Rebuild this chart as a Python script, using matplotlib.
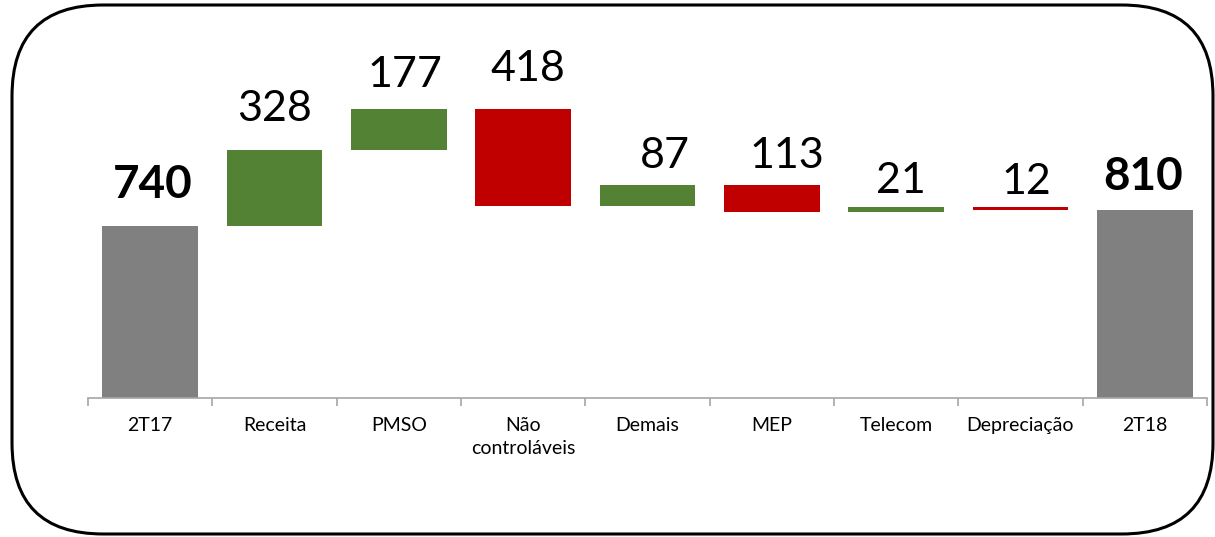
import numpy as np
import matplotlib.pyplot as plt
from matplotlib.patches import FancyBboxPatch

# dados do gráfico cascata
categorias = ['2T17', 'Receita', 'PMSO', 'Não\ncontroláveis', 'Demais',
              'MEP', 'Telecom', 'Depreciação', '2T18']
variacoes = [740, 328, 177, -418, 87, -113, 21, -12, 810]
rotulos = ['740', '328', '177', '418', '87', '113', '21', '12', '810']
totais = [True, False, False, False, False, False, False, False, True]

# deslocamento dos rótulos (px) em relação ao topo da barra
desloc_x = [3, 0, 6, 5, 17, 15, 5, 6, -2]
desloc_y = [28, 29, 22, 28, 17, 17, 14, 13, 20]

cinza = '#808080'
verde = '#548235'
vermelho = '#C00000'

plt.rcParams['font.family'] = ['Lato', 'DejaVu Sans']

fig = plt.figure(figsize=(12.15, 5.37), dpi=100)
ax = fig.add_axes([88 / 1215, 1 - 398 / 537, (1207 - 88) / 1215, (398 - 26) / 537])

# calcula bases e alturas
bases, alturas, cores = [], [], []
acumulado = 0
for v, t in zip(variacoes, totais):
    if t:
        bases.append(0)
        alturas.append(v)
        cores.append(cinza)
        acumulado = v
    elif v >= 0:
        bases.append(acumulado)
        alturas.append(v)
        cores.append(verde)
        acumulado += v
    else:
        bases.append(acumulado + v)
        alturas.append(-v)
        cores.append(vermelho)
        acumulado += v

x = np.arange(len(categorias))
ax.bar(x, alturas, bottom=bases, width=0.77, color=cores)

pt = 72 / 100  # px -> pontos
for i in x:
    topo = bases[i] + alturas[i]
    ax.annotate(rotulos[i], (i, topo),
                xytext=(desloc_x[i] * pt, desloc_y[i] * pt),
                textcoords='offset points', ha='center', va='baseline',
                fontsize=33 if totais[i] else 31,
                fontweight='bold' if totais[i] else 'normal')

ax.set_xlim(-0.5, len(categorias) - 0.5)
ax.set_ylim(0, 1600)
ax.set_yticks([])
for lado in ['top', 'right', 'left']:
    ax.spines[lado].set_visible(False)
ax.spines['bottom'].set_color('#A6A6A6')
ax.spines['bottom'].set_linewidth(1.2)

# marcas entre categorias
ax.set_xticks(np.arange(len(categorias) + 1) - 0.5)
ax.set_xticklabels([])
ax.tick_params(axis='x', which='major', length=6, color='#A6A6A6', width=1.2)
ax.set_xticks(x, minor=True)
ax.set_xticklabels(categorias, minor=True, fontsize=14, linespacing=1.4)
ax.tick_params(axis='x', which='minor', length=0, pad=14)

# moldura arredondada
moldura = FancyBboxPatch((12 / 1215, 1 - 534 / 537), (1213 - 12) / 1215, (534 - 5) / 537,
                         boxstyle='round,pad=0,rounding_size=0.075',
                         transform=fig.transFigure, fill=False,
                         edgecolor='black', linewidth=2.2,
                         mutation_aspect=1215 / 537)
fig.patches.append(moldura)

fig.savefig('out.png', dpi=100)
